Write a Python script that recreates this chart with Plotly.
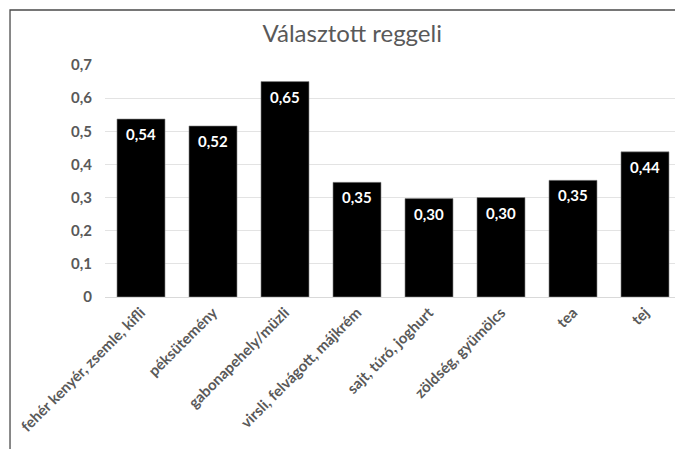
import plotly.graph_objects as go

categories = ["fehér kenyér, zsemle, kifli", "péksütemény", "gabonapehely/müzli",
              "virsli, felvágott, májkrém", "sajt, túró, joghurt", "zöldség, gyümölcs",
              "tea", "tej"]
values = [0.537, 0.516, 0.650, 0.346, 0.297, 0.300, 0.352, 0.438]
y_ticks = [0, 0.1, 0.2, 0.3, 0.4, 0.5, 0.6, 0.7]
y_tick_labels = ["0", "0,1", "0,2", "0,3", "0,4", "0,5", "0,6", "0,7"]
title = "Választott reggeli"

FONT = "Lato"
GRAY = "#595959"

fig = go.Figure()
fig.add_trace(go.Bar(
    x=categories, y=values,
    marker=dict(color="#000000", line=dict(color="#8a8a8a", width=0.6)),
    hoverinfo="skip",
))

annotations = []
for c, v in zip(categories, values):
    annotations.append(dict(
        x=c, y=v, xref="x", yref="y",
        text="<b>" + f"{v:.2f}".replace(".", ",") + "</b>",
        showarrow=False, yanchor="middle", yshift=-15,
        font=dict(family=FONT, size=15, color="#ffffff"),
    ))

fig.update_layout(
    width=675, height=441,
    margin=dict(l=97, r=2, t=57, b=152, autoexpand=False),
    paper_bgcolor="#ffffff", plot_bgcolor="#ffffff",
    showlegend=False,
    bargap=0.333,
    separators=", ",
    title=dict(text=title, x=0.51, xanchor="center", y=0.941, yanchor="middle",
               font=dict(family=FONT, size=24, color=GRAY)),
    annotations=annotations,
    shapes=[dict(type="rect", xref="paper", yref="paper",
                 x0=-0.1649, x1=1.2, y0=-0.8, y1=1.237,
                 line=dict(color="#4a4a4a", width=1.3), fillcolor="rgba(0,0,0,0)", layer="below")],
)
fig.update_xaxes(
    tickangle=-45,
    tickfont=dict(family=FONT, size=15, color=GRAY, weight="bold"),
    showline=True, linecolor="#d9d9d9", linewidth=1,
    ticks="", showgrid=False,
)
fig.update_yaxes(
    range=[0, 0.7], tickvals=y_ticks, ticktext=y_tick_labels,
    tickfont=dict(family=FONT, size=15, color=GRAY, weight="bold"),
    showgrid=True, gridcolor="#e3e3e3", gridwidth=1,
    zeroline=False, showline=False, ticks="",
    ticklabelstandoff=12,
)

fig.write_html("out.html")
